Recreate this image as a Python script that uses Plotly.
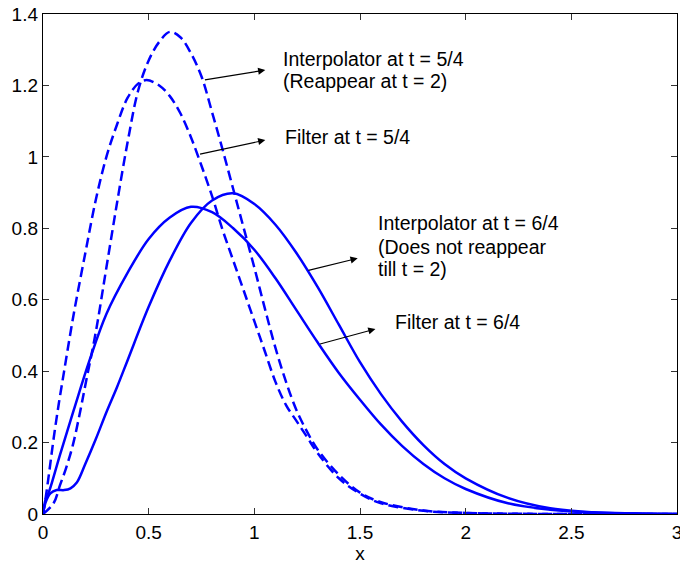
import plotly.graph_objects as go

# ---- data ----
x_interp_54 = [0, 0.05, 0.08, 0.11, 0.14, 0.17, 0.2, 0.25, 0.3, 0.35, 0.4, 0.45, 0.5, 0.55, 0.6, 0.65, 0.7,
               0.75, 0.8, 0.85, 0.9, 0.95, 1.0, 1.05, 1.1, 1.15, 1.2, 1.25, 1.3, 1.4, 1.5, 1.6, 1.8, 2.0, 2.4, 3.0]
y_interp_54 = [0, 0.03, 0.08, 0.13, 0.19, 0.27, 0.36, 0.51, 0.69, 0.87, 1.04, 1.185, 1.27, 1.322, 1.35, 1.335,
               1.29, 1.225, 1.125, 1.02, 0.91, 0.80, 0.69, 0.575, 0.465, 0.37, 0.29, 0.23, 0.18, 0.11, 0.06,
               0.033, 0.01, 0.003, 0.0, 0.0]

x_filter_54 = [0, 0.01, 0.03, 0.05, 0.075, 0.1, 0.125, 0.15, 0.2, 0.25, 0.3, 0.35, 0.4, 0.45, 0.49, 0.55, 0.6,
               0.65, 0.7, 0.75, 0.8, 0.85, 0.9, 0.95, 1.0, 1.05, 1.1, 1.15, 1.2, 1.25, 1.3, 1.4, 1.5, 1.6, 1.8,
               2.0, 2.4, 3.0]
y_filter_54 = [0, 0.035, 0.12, 0.21, 0.31, 0.40, 0.49, 0.575, 0.73, 0.88, 1.0, 1.09, 1.165, 1.205, 1.215, 1.2,
               1.17, 1.122, 1.055, 0.975, 0.89, 0.795, 0.71, 0.625, 0.54, 0.455, 0.37, 0.305, 0.26, 0.215,
               0.17, 0.1, 0.057, 0.03, 0.009, 0.003, 0.0, 0.0]

x_interp_64 = [0, 0.012, 0.035, 0.065, 0.1, 0.13, 0.16, 0.2, 0.25, 0.3, 0.35, 0.4, 0.5, 0.6, 0.7, 0.8, 0.9,
               1.0, 1.1, 1.2, 1.3, 1.4, 1.5, 1.6, 1.7, 1.8, 1.9, 2.0, 2.2, 2.4, 2.6, 3.0]
y_interp_64 = [0, 0.032, 0.058, 0.067, 0.067, 0.072, 0.088, 0.14, 0.21, 0.285, 0.355, 0.43, 0.58, 0.71, 0.815,
               0.878, 0.898, 0.868, 0.81, 0.73, 0.635, 0.53, 0.425, 0.335, 0.258, 0.193, 0.14, 0.10, 0.045,
               0.016, 0.005, 0.0]

x_filter_64 = [0, 0.012, 0.03, 0.08, 0.145, 0.22, 0.3, 0.4, 0.5, 0.6, 0.7, 0.8, 0.9, 1.0, 1.1, 1.2, 1.3, 1.4,
               1.5, 1.6, 1.7, 1.8, 1.9, 2.0, 2.2, 2.4, 2.6, 3.0]
y_filter_64 = [0, 0.04, 0.065, 0.165, 0.29, 0.43, 0.56, 0.675, 0.77, 0.83, 0.86, 0.845, 0.80, 0.74, 0.66, 0.57,
               0.48, 0.395, 0.32, 0.25, 0.19, 0.14, 0.10, 0.07, 0.03, 0.012, 0.004, 0.0]

x_ticks = [0, 0.5, 1, 1.5, 2, 2.5, 3]
y_ticks = [0, 0.2, 0.4, 0.6, 0.8, 1, 1.2, 1.4]

# text lines: (text, left x, centre y) in data units
label_lines = [
    ("Interpolator at t = 5/4", 1.134, 1.273),
    ("(Reappear at t = 2)", 1.134, 1.212),
    ("Filter at t = 5/4", 1.147, 1.057),
    ("Interpolator at t = 6/4", 1.584, 0.814),
    ("(Does not reappear", 1.584, 0.749),
    ("till t = 2)", 1.584, 0.685),
    ("Filter at t = 6/4", 1.666, 0.539),
]
# arrows: (tail_x, tail_y, head_x, head_y)
arrows = [
    (0.759, 1.215, 1.052, 1.243),
    (0.736, 1.007, 1.052, 1.047),
    (1.249, 0.681, 1.489, 0.716),
    (1.304, 0.475, 1.573, 0.518),
]

BLUE = "#0000ff"
FONT = "Liberation Sans, Arial, sans-serif"

fig = go.Figure()
for xs, ys, dash in [(x_interp_54, y_interp_54, "10px,5px"),
                     (x_filter_54, y_filter_54, "10px,5px"),
                     (x_interp_64, y_interp_64, "solid"),
                     (x_filter_64, y_filter_64, "solid")]:
    fig.add_trace(go.Scatter(x=xs, y=ys, mode="lines",
                             line=dict(color=BLUE, width=2.5, dash=dash, shape="spline", smoothing=1.0),
                             showlegend=False, hoverinfo="skip"))

annotations = []
for text, x, y in label_lines:
    annotations.append(dict(text=text, x=x, y=y, xref="x", yref="y", xanchor="left", yanchor="middle",
                            align="left", showarrow=False, borderpad=0, borderwidth=0,
                            font=dict(size=19.5, color="black", family=FONT)))
for tx, ty, hx, hy in arrows:
    annotations.append(dict(text="", x=hx, y=hy, ax=tx, ay=ty, xref="x", yref="y", axref="x", ayref="y",
                            showarrow=True, arrowhead=2, arrowsize=1.2, arrowwidth=1.2, arrowcolor="black",
                            standoff=0, startstandoff=0))

fig.update_layout(
    width=680, height=566,
    margin=dict(l=43, r=3, t=14, b=52),
    paper_bgcolor="white", plot_bgcolor="white",
    font=dict(family=FONT, size=19, color="black"),
    annotations=annotations,
    xaxis=dict(range=[0, 3], tickvals=x_ticks, ticks="inside", ticklen=6, tickcolor="#333",
               showline=True, linecolor="black", linewidth=1.2, mirror="ticks", showgrid=False, zeroline=False,
               automargin=False, ticklabelstandoff=1, ticklabeloverflow="allow",
               title=dict(text="x", standoff=2, font=dict(size=19)), tickfont=dict(size=19)),
    yaxis=dict(range=[0, 1.4], tickvals=y_ticks, ticks="inside", ticklen=6, tickcolor="#333",
               showline=True, linecolor="black", linewidth=1.2, mirror="ticks", showgrid=False, zeroline=False,
               automargin=False, ticklabeloverflow="allow", tickfont=dict(size=19)),
)
fig.write_html("out.html", config={"displayModeBar": False, "staticPlot": True},
               post_script="document.body.style.margin='0';")
